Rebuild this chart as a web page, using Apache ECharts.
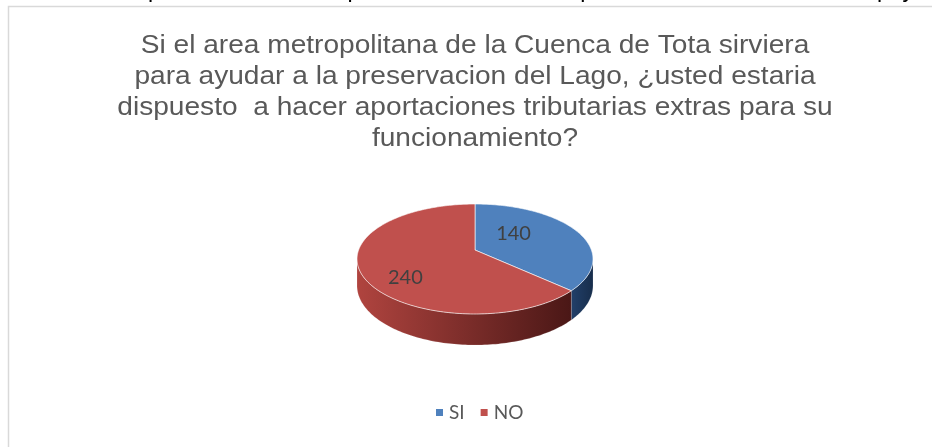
<!DOCTYPE html>
<html>
<head>
<meta charset="utf-8">
<script src="https://cdn.jsdelivr.net/npm/echarts@6/dist/echarts.min.js"></script>
<style>
html, body { margin: 0; padding: 0; background: #fff; }
#grafico { width: 932px; height: 447px; }
</style>
</head>
<body>
<div id="grafico"></div>
<script>
var categorias = ['SI', 'NO'];
var valores = [140, 240];
var colores = ['#4f81bd', '#c0504d'];
var lateral = [['#22406a', '#172d4b'], ['#b0443f', '#4a1716']];
var titulo = [
    'Si el area metropolitana de la Cuenca de Tota sirviera',
    'para ayudar a la preservacion del Lago, ¿usted estaria',
    'dispuesto  a hacer aportaciones tributarias extras para su',
    'funcionamiento?'
];
var leyendaSuperior = 'Gráfico 17. Disposición de hacer aportaciones tributarias para financiar la entidad de apoyo';

// geometria del pastel inclinado (con algo de perspectiva)
var cx = 475, cy = 250, kx = 116.4, ky = 53.5, persp = 0.1636, alto = 26;
var desplazaEtiqueta = [[-23, -4], [-3, 14]];
var total = valores.reduce(function (a, b) { return a + b; }, 0);

function punto(t, conAlto) {
    var d = 1 + persp * Math.cos(t);
    return [
        cx + kx * Math.sin(t) / d,
        cy - ky * Math.cos(t) / d + (conAlto ? alto / d : 0)
    ];
}
function arco(a, b, conAlto) {
    var pts = [];
    var n = Math.max(2, Math.ceil((b - a) / 0.02));
    for (var k = 0; k <= n; k++) pts.push(punto(a + (b - a) * k / n, conAlto));
    return pts;
}

function dibujar(params, api) {
    var i = params.seriesIndex;
    var antes = 0;
    for (var k = 0; k < i; k++) antes += valores[k];
    var a0 = antes / total * Math.PI * 2;
    var a1 = (antes + api.value(0)) / total * Math.PI * 2;
    var hijos = [];

    // pared lateral visible (entre los dos puntos de silueta)
    var lim = Math.acos(-persp);
    var s0 = Math.max(a0, lim), s1 = Math.min(a1, Math.PI * 2 - lim);
    if (s1 > s0) {
        var pared = arco(s0, s1, false).concat(arco(s0, s1, true).reverse());
        hijos.push({
            type: 'polygon',
            shape: { points: pared },
            style: {
                fill: new echarts.graphic.LinearGradient(0, 0, 1, 0, [
                    { offset: 0, color: lateral[i][0] },
                    { offset: 1, color: lateral[i][1] }
                ]),
                stroke: 'rgba(255,255,255,0.25)',
                lineWidth: 0.6
            }
        });
    }

    // cara superior
    hijos.push({
        type: 'polygon',
        shape: { points: [[cx, cy]].concat(arco(a0, a1, false)) },
        style: { fill: api.visual('color'), stroke: 'rgba(255,255,255,0.6)', lineWidth: 1 }
    });

    var m = (a0 + a1) / 2;
    var d = 1 + persp * 0.6 * Math.cos(m);
    var p = [cx + kx * 0.6 * Math.sin(m) / d, cy - ky * 0.6 * Math.cos(m) / d];
    hijos.push({
        type: 'text',
        style: {
            text: String(api.value(0)),
            x: p[0] + desplazaEtiqueta[i][0],
            y: p[1] + desplazaEtiqueta[i][1],
            align: 'center',
            verticalAlign: 'middle',
            fill: '#404040',
            fontSize: 20,
            fontFamily: 'Lato'
        }
    });
    return { type: 'group', children: hijos };
}

var grafico = echarts.init(document.getElementById('grafico'), null, { renderer: 'canvas' });

var option = {
    animation: false,
    backgroundColor: '#ffffff',
    legend: {
        data: categorias,
        left: 431,
        top: 398,
        icon: 'rect',
        itemWidth: 7,
        itemHeight: 7,
        itemGap: 16,
        textStyle: { color: '#595959', fontSize: 19, fontFamily: 'Lato', padding: [0, 0, 0, 1] }
    },
    graphic: [
        {
            type: 'text',
            x: -4,
            y: -21,
            style: { text: leyendaSuperior, fill: '#000', fontSize: 23, fontFamily: 'Liberation Sans' }
        },
        {
            type: 'rect',
            shape: { x: 8.5, y: 6.5, width: 940, height: 460 },
            style: { fill: 'none', stroke: '#d9d9d9', lineWidth: 1.5 }
        },
        {
            type: 'text',
            x: 475,
            y: 31,
            scaleX: 1.124,
            style: {
                text: titulo.join('\n'),
                align: 'center',
                fontFamily: 'Liberation Sans',
                fontSize: 25,
                lineHeight: 31,
                fill: '#595959'
            }
        }
    ],
    series: categorias.map(function (c, i) {
        return {
            type: 'custom',
            name: c,
            coordinateSystem: 'none',
            silent: true,
            itemStyle: { color: colores[i] },
            data: [valores[i]],
            renderItem: dibujar
        };
    })
};

grafico.setOption(option);
</script>
</body>
</html>
